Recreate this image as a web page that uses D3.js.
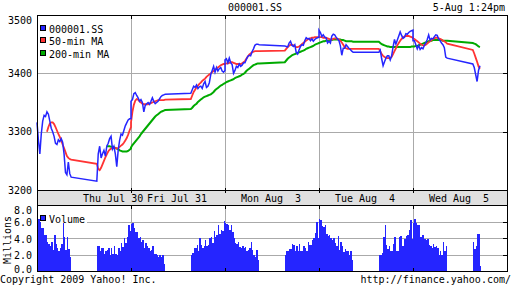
<!DOCTYPE html>
<html>
<head>
<meta charset="utf-8">
<title>000001.SS</title>
<style>
  body { margin: 0; background: #fff; }
  svg { display: block; font-family: "DejaVu Sans Mono", monospace; font-size: 10px; }
  .grid line { stroke: #aaa; stroke-width: 1; shape-rendering: crispEdges; }
  .frame { fill: none; stroke: #000; stroke-width: 1; shape-rendering: crispEdges; }
  .tick line { stroke: #000; stroke-width: 1; shape-rendering: crispEdges; }
</style>
<script src="https://d3js.org/d3.v7.min.js"></script>
</head>
<body>
<svg width="512" height="288"></svg>
<script>
// each day: 25 morning points (9:30..11:30) + 25 afternoon points (13:00..15:00), 5 min apart
var days = ["Thu Jul 30", "Fri Jul 31", "Mon Aug  3", "Tue Aug  4", "Wed Aug  5"];
var dayLabelPos = [0.81, 1.49, 2.49, 3.49, 4.49];
var priceTicks = [3200, 3300, 3400, 3500];
var volTicks = [0, 2, 4, 6, 8];

var price = [
  [3316, 3285, 3262, 3296, 3318, 3328, 3326, 3334, 3330, 3318, 3306, 3300, 3292, 3280, 3278, 3286, 3283, 3288, 3282, 3262, 3230, 3226, 3248, 3228, 3222,
   3215, 3262, 3275, 3255, 3262, 3268, 3258, 3275, 3280, 3288, 3292, 3270, 3275, 3262, 3240, 3268, 3285, 3296, 3294, 3302, 3310, 3315, 3320, 3322, 3322],
  [3352, 3355, 3365, 3367, 3362, 3358, 3352, 3355, 3350, 3334, 3345, 3348, 3350, 3347, 3352, 3358, 3352, 3348, 3350, 3352, 3356, 3360, 3362, 3363, 3364,
   3366, 3372, 3378, 3376, 3380, 3374, 3377, 3378, 3374, 3382, 3386, 3376, 3378, 3384, 3398, 3405, 3412, 3402, 3410, 3404, 3408, 3410, 3404, 3402, 3405],
  [3423, 3425, 3418, 3426, 3418, 3415, 3400, 3405, 3412, 3410, 3416, 3412, 3414, 3418, 3418, 3424, 3429, 3431, 3430, 3437, 3442, 3448, 3450, 3450, 3449,
   3447, 3446, 3445, 3452, 3455, 3448, 3446, 3449, 3436, 3433, 3440, 3446, 3449, 3448, 3456, 3461, 3459, 3460, 3456, 3459, 3455, 3458, 3460, 3461, 3462],
  [3474, 3470, 3463, 3466, 3462, 3461, 3452, 3455, 3452, 3464, 3467, 3466, 3462, 3459, 3456, 3447, 3431, 3443, 3443, 3449, 3446, 3443, 3441, 3438, 3436,
   3436, 3440, 3425, 3413, 3420, 3426, 3430, 3430, 3423, 3430, 3445, 3458, 3450, 3457, 3464, 3471, 3465, 3460, 3462, 3468, 3467, 3470, 3472, 3473, 3474],
  [3456, 3456, 3449, 3442, 3448, 3441, 3444, 3442, 3448, 3452, 3458, 3466, 3457, 3460, 3459, 3463, 3466, 3465, 3459, 3456, 3452, 3449, 3444, 3428, 3426,
   3416, 3410, 3398, 3386, 3405, 3413]
];

var ma50 = [
  [null, null, null, null, null, null, null, 3300, 3308, 3314, 3316, 3316, 3313, 3308, 3302, 3296, 3291, 3285, 3278, 3272, 3265, 3258, 3255, 3253, 3252,
   3245, 3236, 3234, 3238, 3244, 3250, 3256, 3261, 3266, 3269, 3271, 3272, 3273, 3272, 3271, 3272, 3274, 3276, 3278, 3281, 3285, 3289, 3295, 3302, 3308],
  [3316, 3334, 3346, 3353, 3356, 3355, 3352, 3350, 3348, 3347, 3347, 3347, 3347, 3348, 3349, 3350, 3351, 3352, 3353, 3354, 3354, 3354, 3354, 3354, 3355,
   3356, 3362, 3368, 3372, 3376, 3379, 3382, 3384, 3387, 3389, 3391, 3394, 3396, 3398, 3400, 3402, 3404, 3406, 3408, 3410, 3412, 3414, 3415, 3416, 3416],
  [3416, 3417, 3417, 3418, 3419, 3419, 3418, 3417, 3416, 3416, 3416, 3416, 3417, 3419, 3421, 3425, 3429, 3432, 3434, 3436, 3437, 3438, 3438, 3438, 3438,
   3439, 3442, 3445, 3447, 3449, 3449, 3448, 3447, 3445, 3445, 3446, 3448, 3450, 3452, 3454, 3456, 3458, 3459, 3460, 3461, 3461, 3462, 3462, 3462, 3462],
  [3462, 3462, 3462, 3461, 3461, 3461, 3460, 3459, 3458, 3458, 3459, 3460, 3460, 3459, 3458, 3456, 3453, 3449, 3445, 3443, 3442, 3442, 3442, 3442, 3442,
   3442, 3438, 3433, 3430, 3428, 3427, 3426, 3426, 3426, 3428, 3433, 3438, 3443, 3448, 3452, 3456, 3459, 3462, 3463, 3464, 3464, 3464, 3463, 3462, 3461],
  [3460, 3459, 3457, 3455, 3453, 3451, 3449, 3448, 3448, 3449, 3451, 3453, 3455, 3457, 3459, 3460, 3461, 3461, 3460, 3459, 3458, 3456, 3455, 3453, 3451,
   3440, 3434, 3427, 3420, 3412, 3408]
];

var ma200 = [
  [null, null, null, null, null, null, null, null, null, null, null, null, null, null, null, null, null, null, null, null, null, null, null, null, null,
   null, null, null, null, null, null, null, 3275, 3275, 3275, 3274, 3274, 3273, 3272, 3271, 3270, 3268, 3267, 3266, 3266, 3266, 3266, 3267, 3269, 3271],
  [3273, 3277, 3280, 3283, 3286, 3289, 3292, 3296, 3299, 3302, 3305, 3308, 3311, 3314, 3317, 3320, 3323, 3326, 3328, 3330, 3332, 3334, 3335, 3336, 3337,
   3339, 3341, 3344, 3346, 3348, 3351, 3353, 3355, 3357, 3359, 3360, 3361, 3362, 3363, 3364, 3366, 3368, 3371, 3373, 3375, 3377, 3379, 3380, 3382, 3383],
  [3383, 3385, 3386, 3387, 3388, 3389, 3390, 3392, 3393, 3394, 3395, 3396, 3398, 3399, 3401, 3404, 3406, 3408, 3410, 3412, 3414, 3415, 3416, 3417, 3417,
   3419, 3422, 3425, 3427, 3429, 3431, 3432, 3433, 3434, 3435, 3436, 3437, 3438, 3439, 3440, 3442, 3443, 3444, 3445, 3446, 3447, 3449, 3450, 3451, 3452],
  [3452, 3453, 3454, 3455, 3455, 3456, 3456, 3456, 3457, 3457, 3458, 3458, 3458, 3458, 3458, 3458, 3457, 3457, 3456, 3455, 3455, 3455, 3455, 3455, 3454,
   3454, 3452, 3450, 3449, 3448, 3447, 3446, 3446, 3445, 3445, 3445, 3445, 3445, 3445, 3445, 3445, 3445, 3445, 3445, 3445, 3445, 3445, 3445, 3446, 3446],
  [3446, 3446, 3447, 3447, 3448, 3449, 3450, 3451, 3452, 3453, 3454, 3455, 3456, 3456, 3457, 3457, 3457, 3457, 3457, 3457, 3457, 3456, 3456, 3456, 3456,
   3452, 3451, 3450, 3448, 3446, 3445]
];

// 5-min volume bars in millions: 24 morning + 24 afternoon
var volume = [
  [6.8, 6.3, 6.0, 5.3, 5.3, 4.4, 4.4, 3.5, 3.3, 3.1, 3.5, 2.6, 4.4, 3.3, 2.8, 2.4, 2.8, 3.3, 5.9, 4.1, 2.6, 4.1, 2.7, 1.7,
   3.0, 3.0, 2.4, 2.8, 2.8, 2.1, 2.4, 2.6, 2.8, 2.0, 2.8, 2.1, 3.0, 2.1, 1.9, 2.8, 2.4, 3.4, 2.9, 4.0, 3.4, 4.2, 5.6, 4.9],
  [5.7, 5.9, 5.2, 4.8, 4.8, 4.0, 4.2, 3.6, 3.8, 2.8, 3.4, 3.0, 2.8, 2.4, 2.6, 3.0, 2.1, 2.1, 1.9, 1.7, 1.9, 1.7, 1.9, 0.8,
   1.9, 2.2, 2.8, 2.8, 3.2, 2.4, 4.0, 3.2, 2.8, 3.0, 3.8, 3.0, 3.2, 4.0, 4.1, 3.4, 4.9, 4.1, 4.4, 5.6, 4.5, 5.0, 4.9, 6.1],
  [5.9, 5.7, 5.6, 5.0, 5.6, 4.8, 4.0, 3.4, 3.3, 3.6, 2.9, 2.8, 3.1, 2.8, 2.9, 2.4, 2.6, 2.8, 3.5, 2.6, 2.0, 1.7, 2.6, 1.3,
   2.0, 2.5, 2.5, 2.7, 2.7, 3.3, 3.2, 2.4, 3.0, 2.4, 3.3, 2.4, 2.4, 3.0, 2.8, 2.4, 3.6, 3.2, 3.2, 3.8, 4.0, 4.6, 6.0, 4.0],
  [6.3, 6.2, 5.5, 5.4, 5.6, 4.5, 4.3, 4.4, 4.0, 3.8, 4.0, 3.4, 3.1, 4.3, 2.6, 3.6, 3.0, 2.3, 2.7, 2.5, 2.4, 2.0, 2.5, 1.3,
   1.9, 2.0, 2.2, 4.1, 5.6, 3.2, 2.7, 3.0, 2.4, 2.5, 3.3, 4.1, 2.4, 2.4, 4.1, 4.3, 3.0, 3.1, 3.9, 4.3, 4.4, 5.0, 6.2, 3.9],
  [5.9, 6.4, 5.9, 5.6, 5.6, 4.1, 4.4, 4.4, 3.9, 3.8, 3.9, 3.2, 3.0, 2.8, 3.3, 2.9, 3.0, 2.8, 2.0, 2.4, 2.0, 3.5, 2.4, 3.0,
   3.5, 2.7, 3.1, 4.5, 4.5, 0.6]
];

var legendItems = [
  {name: "000001.SS", color: "#2525ff"},
  {name: "50-min MA", color: "#ff3333"},
  {name: "200-min MA", color: "#00aa00"}
];

var svg = d3.select("svg");
var left = 37, right = 507;
var mainTop = 15, mainBottom = 190, volTop = 205, volBottom = 271;
var dayLen = 330; // 9:30 to 15:00 in minutes, lunch gap kept

var x = d3.scaleLinear().domain([0, days.length * dayLen]).range([left, right]);
var y = d3.scaleLinear().domain([3200, 3500]).range([mainBottom, mainTop]);
var yv = d3.scaleLinear().domain([0, 8]).range([volBottom, 205.5]);

function pointMinute(k) { return k < 25 ? 5 * k : 210 + 5 * (k - 25); }
function barMinute(b) { return b < 24 ? 5 * b : 210 + 5 * (b - 24); }

function toPoints(series) {
  var out = [];
  series.forEach(function(arr, d) {
    arr.forEach(function(v, k) { out.push({t: d * dayLen + pointMinute(k), v: v}); });
  });
  return out;
}

svg.append("rect").attr("width", 512).attr("height", 288).attr("fill", "#fff");

// grid
var grid = svg.append("g").attr("class", "grid");
var dayEdges = d3.range(1, days.length).map(function(d) { return d * dayLen; });
grid.selectAll(".gy").data([3300, 3400]).enter().append("line")
  .attr("x1", left).attr("x2", right)
  .attr("y1", function(d) { return Math.round(y(d)) + 0.5; })
  .attr("y2", function(d) { return Math.round(y(d)) + 0.5; });
grid.selectAll(".gvy").data([2, 4, 6]).enter().append("line")
  .attr("x1", left).attr("x2", right)
  .attr("y1", function(d) { return Math.round(yv(d)) + 0.5; })
  .attr("y2", function(d) { return Math.round(yv(d)) + 0.5; });
grid.selectAll(".gx").data(dayEdges).enter().append("line")
  .attr("x1", function(d) { return Math.round(x(d)) + 0.5; })
  .attr("x2", function(d) { return Math.round(x(d)) + 0.5; })
  .attr("y1", mainTop).attr("y2", mainBottom);
grid.selectAll(".gvx").data(dayEdges).enter().append("line")
  .attr("x1", function(d) { return Math.round(x(d)) + 0.5; })
  .attr("x2", function(d) { return Math.round(x(d)) + 0.5; })
  .attr("y1", volTop).attr("y2", volBottom);

// date band
svg.append("rect").attr("x", left + 0.5).attr("y", mainBottom + 0.5)
  .attr("width", right - left).attr("height", volTop - mainBottom)
  .attr("fill", "#e0e0e0").attr("stroke", "#000").style("shape-rendering", "crispEdges");
svg.selectAll(".dlab").data(days).enter().append("text")
  .attr("x", function(d, i) { return x(dayLabelPos[i] * dayLen); })
  .attr("y", 201.5)
  .attr("text-anchor", "middle")
  .style("white-space", "pre")
  .attr("xml:space", "preserve")
  .text(function(d) { return d; });

// volume legend background, then bars
svg.append("rect").attr("x", left + 1).attr("y", 210).attr("width", 49).attr("height", 14).attr("fill", "#fff");

var bars = [];
volume.forEach(function(arr, d) {
  arr.forEach(function(v, b) { bars.push({t: d * dayLen + barMinute(b), v: v}); });
});
svg.append("g").selectAll("rect").data(bars).enter().append("rect")
  .attr("x", function(d) { return Math.round(x(d.t)); })
  .attr("width", function(d) { return Math.round(x(d.t + 5)) - Math.round(x(d.t)) > 1 ? 1.6 : 1; })
  .attr("y", function(d) { return yv(d.v); })
  .attr("height", function(d) { return yv(0) - yv(d.v); })
  .attr("fill", "#2525ff")
  .style("shape-rendering", "crispEdges");

// price lines
var line = d3.line()
  .defined(function(d) { return d.v != null; })
  .x(function(d) { return x(d.t); })
  .y(function(d) { return y(d.v); });

svg.append("path").datum(toPoints(ma200)).attr("d", line)
  .attr("fill", "none").attr("stroke", "#00aa00").attr("stroke-width", 2);
svg.append("path").datum(toPoints(ma50)).attr("d", line)
  .attr("fill", "none").attr("stroke", "#ff3333").attr("stroke-width", 1.8);
svg.append("path").datum(toPoints(price)).attr("d", line)
  .attr("fill", "none").attr("stroke", "#2525ff").attr("stroke-width", 1.5);

// frames
svg.append("rect").attr("class", "frame").attr("x", left + 0.5).attr("y", mainTop + 0.5)
  .attr("width", right - left).attr("height", mainBottom - mainTop);
svg.append("rect").attr("class", "frame").attr("x", left + 0.5).attr("y", volTop + 0.5)
  .attr("width", right - left).attr("height", volBottom - volTop);

// small ticks
var ticks = svg.append("g").attr("class", "tick");
dayEdges.forEach(function(t) {
  var px = Math.round(x(t)) + 0.5;
  ticks.append("line").attr("x1", px).attr("x2", px).attr("y1", mainTop).attr("y2", mainTop + 4);
  ticks.append("line").attr("x1", px).attr("x2", px).attr("y1", mainBottom - 2).attr("y2", mainBottom + 3);
  ticks.append("line").attr("x1", px).attr("x2", px).attr("y1", volTop).attr("y2", volTop + 4);
  ticks.append("line").attr("x1", px).attr("x2", px).attr("y1", volBottom - 3).attr("y2", volBottom);
});
[3300, 3400].forEach(function(v) {
  var py = Math.round(y(v)) + 0.5;
  ticks.append("line").attr("x1", right - 4).attr("x2", right).attr("y1", py).attr("y2", py);
});
[2, 4, 6].forEach(function(v) {
  var py = Math.round(yv(v)) + 0.5;
  ticks.append("line").attr("x1", right - 4).attr("x2", right).attr("y1", py).attr("y2", py);
});

// axis labels
svg.selectAll(".ylab").data(priceTicks).enter().append("text")
  .attr("x", 32).attr("text-anchor", "end")
  .attr("y", function(d) { return Math.max(y(d), 20) + 3.5; })
  .text(function(d) { return d; });
svg.selectAll(".vlab").data(volTicks).enter().append("text")
  .attr("x", 32).attr("text-anchor", "end")
  .attr("y", function(d) { return Math.min(Math.max(yv(d) + 1, 210.7), 269) + 3.5; })
  .text(function(d) { return d.toFixed(1); });
svg.append("text").attr("transform", "translate(11,240) rotate(-90)")
  .attr("text-anchor", "middle").text("Millions");

// legends
var lg = svg.append("g");
legendItems.forEach(function(it, i) {
  var by = 32.5 + i * 12.5;
  lg.append("rect").attr("x", 40.5).attr("y", by - 7.5).attr("width", 5).attr("height", 5)
    .attr("fill", it.color).attr("stroke", "#000").attr("stroke-width", 1).style("shape-rendering", "crispEdges");
  lg.append("text").attr("x", 49).attr("y", by).text(it.name);
});
lg.append("rect").attr("x", 40.5).attr("y", 215).attr("width", 5).attr("height", 5)
  .attr("fill", "#2525ff").attr("stroke", "#000").style("shape-rendering", "crispEdges");
lg.append("text").attr("x", 49).attr("y", 222.5).text("Volume");

// header / footer
svg.append("text").attr("x", 255).attr("y", 11).attr("text-anchor", "middle").text("000001.SS");
svg.append("text").attr("x", 505).attr("y", 11).attr("text-anchor", "end").text("5-Aug 1:24pm");
svg.append("text").attr("x", 0).attr("y", 283).text("Copyright 2009 Yahoo! Inc.");
svg.append("text").attr("x", 511).attr("y", 283).attr("text-anchor", "end").text("http://finance.yahoo.com/");
</script>
</body>
</html>
